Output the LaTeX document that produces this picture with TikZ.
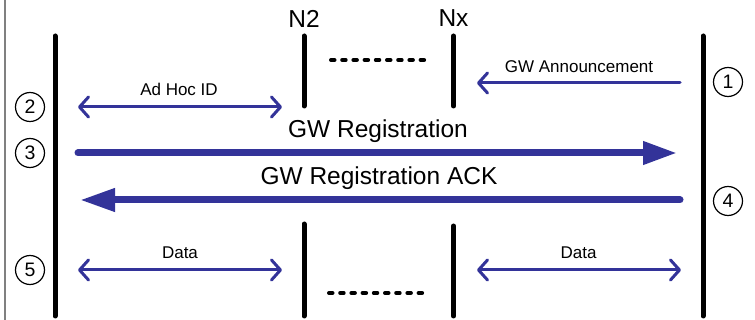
\documentclass[tikz,border=0pt]{standalone}
\usepackage{fontspec}
\setmainfont{Liberation Sans}
\usetikzlibrary{arrows.meta}
\definecolor{arrowblue}{RGB}{51,51,153}
\tikzset{
  life/.style={line width=5pt, line cap=round, black},
  dots/.style={line width=4pt, black, line cap=round, dash pattern=on 3.5pt off 7.7pt},
  thin arrow/.style={line width=3pt, arrowblue, line cap=round,
     arrows={Straight Barb[length=9pt,width=20pt,round]-Straight Barb[length=9pt,width=20pt,round]}},
  thin left/.style={line width=3pt, arrowblue, line cap=round,
     arrows={Straight Barb[length=9pt,width=20pt,round]-}},
  thick right/.style={line width=7pt, arrowblue, line cap=round,
     arrows={-Triangle[length=34pt,width=22pt]}},
  thick left/.style={line width=7pt, arrowblue, line cap=round,
     arrows={Triangle[length=35pt,width=22pt]-}},
  small lbl/.style={font=\fontsize{17}{20}\selectfont, inner sep=0pt},
  big lbl/.style={font=\fontsize{24.5}{28}\selectfont, inner sep=0pt},
  num/.style={circle, draw, line width=1.2pt, minimum size=29pt, inner sep=0pt,
     font=\fontsize{19.5}{22}\selectfont}
}
\begin{document}
\begin{tikzpicture}[x=1pt,y=-1pt]
\useasboundingbox (0,0) rectangle (755,320);
\fill[white] (0,0) rectangle (755,320);
% border
\coordinate (b1) at (5,0); \coordinate (b2) at (5,320);
\draw[gray, line width=1.3pt] (b1) -- (b2);
% lifelines
\coordinate (L1) at (55,36); \coordinate (L2) at (55,316);
\coordinate (R1) at (703,36); \coordinate (R2) at (703,316);
\coordinate (N2a) at (304,36); \coordinate (N2b) at (304,106);
\coordinate (N2c) at (304,224); \coordinate (N2d) at (304,316);
\coordinate (Nxa) at (453.5,36); \coordinate (Nxb) at (453.5,106);
\coordinate (Nxc) at (453.5,226); \coordinate (Nxd) at (453.5,316);
\draw[life] (L1) -- (L2);
\draw[life] (R1) -- (R2);
\draw[life] (N2a) -- (N2b);
\draw[life] (N2c) -- (N2d);
\draw[life] (Nxa) -- (Nxb);
\draw[life] (Nxc) -- (Nxd);
\node[big lbl] (n2) at (304,18.5) {N2};
\node[big lbl] (nx) at (453.5,18.5) {Nx};
% dotted separators
\coordinate (d1) at (331,60); \coordinate (d2) at (426,60);
\coordinate (d3) at (329,293); \coordinate (d4) at (424,293);
\draw[dots] (d1) -- (d2);
\draw[dots] (d3) -- (d4);
% messages
\coordinate (a1) at (78,107); \coordinate (a2) at (282,107);
\draw[thin arrow] (a1) -- (a2);
\node[small lbl] (adhoc) at (179,89) {Ad Hoc ID};

\coordinate (g1) at (477,83); \coordinate (g2) at (680,83);
\draw[thin left] (g1) -- (g2);
\node[small lbl] (gwa) at (579,67) {GW Announcement};

\coordinate (r1) at (78,153); \coordinate (r2) at (677,153);
\draw[thick right] (r1) -- (r2);
\node[big lbl] (gwr) at (378,131) {GW Registration};

\coordinate (k1) at (80,200); \coordinate (k2) at (680,200);
\draw[thick left] (k1) -- (k2);
\node[big lbl] (gwk) at (379,178.5) {GW Registration ACK};

\coordinate (e1) at (78,270); \coordinate (e2) at (282,270);
\draw[thin arrow] (e1) -- (e2);
\node[small lbl] (data1) at (180,252.5) {Data};
\coordinate (f1) at (477,270); \coordinate (f2) at (681,270);
\draw[thin arrow] (f1) -- (f2);
\node[small lbl] (data2) at (578.5,252.5) {Data};
% step numbers
\node[num] (c1) at (728,82) {1};
\node[num] (c2) at (30,107) {2};
\node[num] (c3) at (30,153) {3};
\node[num] (c4) at (728,201) {4};
\node[num] (c5) at (30,270) {5};
\end{tikzpicture}
\end{document}
